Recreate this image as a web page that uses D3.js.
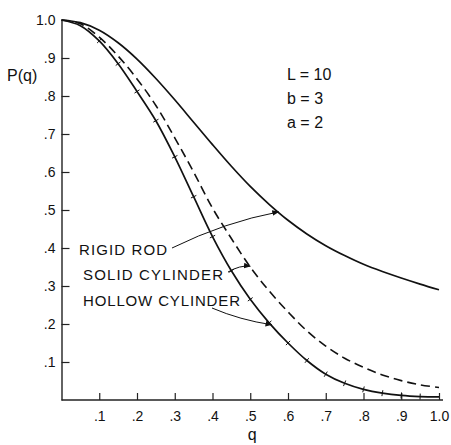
<!DOCTYPE html>
<html>
<head>
<meta charset="utf-8">
<script src="https://cdn.jsdelivr.net/npm/d3@7"></script>
<style>
  body { margin: 0; background: #fff; }
  text { font-family: "Liberation Sans", "DejaVu Sans", sans-serif; fill: #111; }
</style>
</head>
<body>
<div class="canvas"></div>
<script>
// data
const qVals   = [0, .05, .1, .15, .2, .25, .3, .35, .4, .45, .5, .55, .6, .65, .7, .75, .8, .85, .9, .95, 1.0];
const rigidRod = [1.0, .993, .973, .94, .897, .846, .79, .731, .672, .615, .562, .515, .473, .437, .406, .38, .357, .338, .321, .305, .29];
const solidCyl = [1.0, .99, .955, .905, .845, .775, .69, .60, .505, .425, .35, .287, .232, .182, .142, .110, .086, .066, .051, .040, .033];
const hollowCyl = [1.0, .985, .945, .885, .812, .735, .64, .535, .43, .34, .265, .203, .150, .104, .068, .044, .028, .018, .012, .009, .008];
const xTicks = [.1, .2, .3, .4, .5, .6, .7, .8, .9, 1.0];
const yTicks = [.1, .2, .3, .4, .5, .6, .7, .8, .9, 1.0];
const params = ['L = 10', 'b = 3', 'a = 2'];

const dims = { width: 451, height: 445 };
const plot = { left: 61.5, right: 439, top: 20, bottom: 400 };

const svg = d3.select('.canvas')
  .append('svg')
  .attr('width', dims.width)
  .attr('height', dims.height);

const x = d3.scaleLinear().domain([0, 1]).range([plot.left, plot.right]);
const y = d3.scaleLinear().domain([0, 1]).range([plot.bottom, plot.top]);

const fmt = d => d === 1 ? '1.0' : d3.format('.1f')(d).replace(/^0/, '');

// axes, ticks point inward
const xAxis = d3.axisBottom(x)
  .tickValues(xTicks)
  .tickFormat(fmt)
  .tickSizeInner(-7)
  .tickSizeOuter(0)
  .tickPadding(11);

const yAxis = d3.axisLeft(y)
  .tickValues(yTicks)
  .tickFormat(fmt)
  .tickSizeInner(-8)
  .tickSizeOuter(0)
  .tickPadding(6);

const gx = svg.append('g')
  .attr('transform', `translate(0,${plot.bottom})`)
  .call(xAxis);
const gy = svg.append('g')
  .attr('transform', `translate(${plot.left},0)`)
  .call(yAxis);

[gx, gy].forEach(g => {
  g.select('.domain').attr('stroke', '#222').attr('stroke-width', 1.4);
  g.selectAll('.tick line').attr('stroke', '#222').attr('stroke-width', 1.2);
  g.selectAll('.tick text').attr('font-size', 14).attr('fill', '#111')
    .style('font-family', '"Liberation Sans", sans-serif');
});
// extend x axis a bit past 1.0 like the original
gx.select('.domain').attr('d', `M${plot.left},0H${plot.right + 4}`);

// axis titles
svg.append('text')
  .attr('x', 7).attr('y', 81)
  .attr('font-size', 16)
  .text('P(q)');
svg.append('text')
  .attr('x', x(.505)).attr('y', 440)
  .attr('text-anchor', 'middle')
  .attr('font-size', 16)
  .text('q');

// curves
const line = d3.line()
  .x(d => x(d[0]))
  .y(d => y(d[1]))
  .curve(d3.curveCatmullRom.alpha(0.5));

const rodPts = qVals.map((q, i) => [q, rigidRod[i]]);
const solidPts = qVals.map((q, i) => [q, solidCyl[i]]);
const hollowPts = qVals.map((q, i) => [q, hollowCyl[i]]);

svg.append('path')
  .attr('d', line(rodPts))
  .attr('fill', 'none')
  .attr('stroke', '#111')
  .attr('stroke-width', 1.7);

svg.append('path')
  .attr('d', line(solidPts))
  .attr('fill', 'none')
  .attr('stroke', '#111')
  .attr('stroke-width', 1.6)
  .attr('stroke-dasharray', '9,5');

svg.append('path')
  .attr('d', line(hollowPts))
  .attr('fill', 'none')
  .attr('stroke', '#111')
  .attr('stroke-width', 1.7);

// small cross marks on the hollow cylinder curve at the data points
svg.append('g')
  .selectAll('line')
  .data(hollowPts.slice(2, -1))
  .enter()
  .append('line')
    .each(function(d, i) {
      const j = i + 2;
      const p0 = hollowPts[j - 1], p1 = hollowPts[j + 1];
      const dx = x(p1[0]) - x(p0[0]), dy = y(p1[1]) - y(p0[1]);
      const len = Math.hypot(dx, dy);
      const nx = -dy / len * 3, ny = dx / len * 3;
      d3.select(this)
        .attr('x1', x(d[0]) - nx).attr('y1', y(d[1]) - ny)
        .attr('x2', x(d[0]) + nx).attr('y2', y(d[1]) + ny);
    })
    .attr('stroke', '#111')
    .attr('stroke-width', 1);

// parameter box
svg.append('g')
  .selectAll('text')
  .data(params)
  .enter()
  .append('text')
    .attr('x', 287)
    .attr('y', (d, i) => 80 + i * 24)
    .attr('font-size', 16)
    .text(d => d);

// labels with arrows
svg.append('defs').append('marker')
  .attr('id', 'head')
  .attr('viewBox', '0 0 10 10')
  .attr('refX', 9).attr('refY', 5)
  .attr('markerWidth', 7).attr('markerHeight', 7)
  .attr('orient', 'auto')
  .append('path')
    .attr('d', 'M0,1L10,5L0,9Z')
    .attr('fill', '#111');

const labels = [
  { text: 'RIGID ROD', lx: 79, ly: 255, len: 88, from: [172, 248], tip: [.575, .495], bend: [225, 222] },
  { text: 'SOLID CYLINDER', lx: 83, ly: 280, len: 140, from: [228, 272], tip: [.50, .352], bend: [240, 265] },
  { text: 'HOLLOW CYLINDER', lx: 83, ly: 306, len: 157, from: [212, 308], tip: [.557, .198], bend: [240, 320] }
];

svg.append('g')
  .selectAll('text')
  .data(labels)
  .enter()
  .append('text')
    .attr('x', d => d.lx)
    .attr('y', d => d.ly)
    .attr('font-size', 15)
    .attr('textLength', d => d.len)
    .attr('lengthAdjust', 'spacing')
    .text(d => d.text);

svg.append('g')
  .selectAll('path')
  .data(labels)
  .enter()
  .append('path')
    .attr('d', d => {
      const tx = x(d.tip[0]), ty = y(d.tip[1]);
      return `M${d.from[0]},${d.from[1]}Q${d.bend[0]},${d.bend[1]} ${tx},${ty}`;
    })
    .attr('fill', 'none')
    .attr('stroke', '#111')
    .attr('stroke-width', 1)
    .attr('marker-end', 'url(#head)');
</script>
</body>
</html>
